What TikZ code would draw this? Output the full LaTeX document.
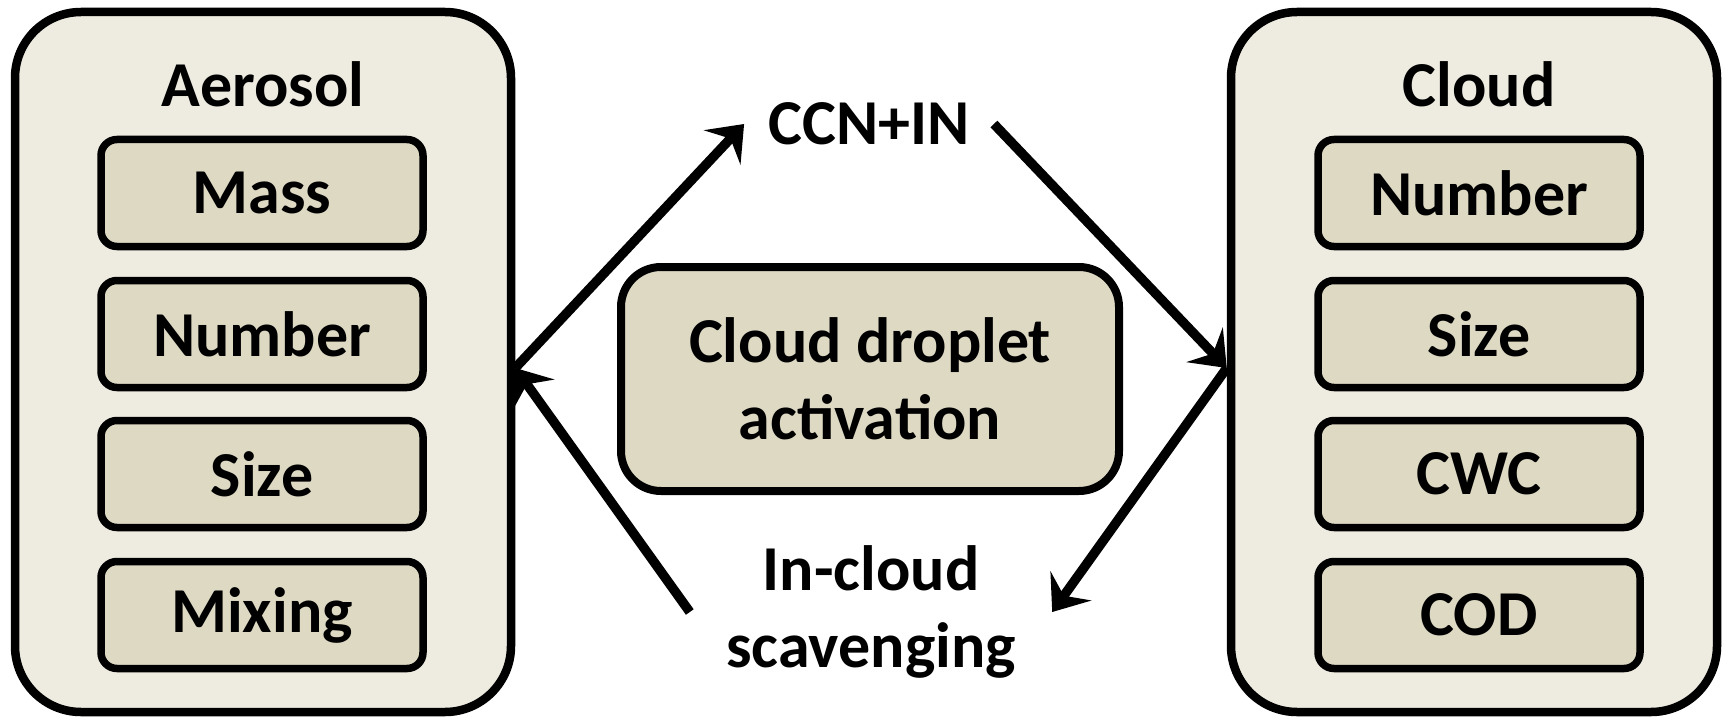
\documentclass[tikz,border=0pt]{standalone}
\usepackage{fontspec}
\setmainfont{Carlito}
\usetikzlibrary{arrows.meta}

\definecolor{panelfill}{HTML}{EEECE1}
\definecolor{itemfill}{HTML}{DDD9C3}

\begin{document}
\begin{tikzpicture}[
  x=0.5pt, y=-0.5pt,
  font=\fontsize{32}{38.4}\selectfont\bfseries,
  % Node Styles
  panel/.style={draw, line width=4.25pt, rounded corners=33pt, fill=panelfill, minimum width=248pt, minimum height=350pt, inner sep=0pt},
  item/.style={draw, line width=3.75pt, rounded corners=8pt, fill=itemfill, minimum width=161pt, minimum height=53.5pt, inner sep=0pt},
  proc/.style={draw, line width=4pt, rounded corners=20pt, fill=itemfill, minimum width=249pt, minimum height=112pt, align=center},
  title/.style={anchor=base, inner sep=0pt},
  lbl/.style={align=center, inner ysep=0pt},
  % Line Styles
  flow/.style={-{Stealth[length=16pt, width=25pt, inset=6pt]}, line width=4.75pt, black}
]
\useasboundingbox (0,0) rectangle (1724,717);

% ================= NODES =================

% --- Aerosol (Left Panel) ---
\node[panel] (aer) at (263,362) {};
\node[title] (aer_title) at (263,107) {Aerosol};
\node[item] (aer_mass) at (262,193) {Mass};
\node[item] (aer_num)  at (262,334) {Number};
\node[item] (aer_size) at (262,474) {Size};
\node[item] (aer_mix)  at (262,615) {Mixing};

% --- Cloud (Right Panel) ---
\node[panel, minimum width=243pt] (cld) at (1474,362) {};
\node[title] (cld_title) at (1479,107) {Cloud};
\node[item] (cld_num)  at (1479,193) {Number};
\node[item] (cld_size) at (1479,334) {Size};
\node[item] (cld_cwc)  at (1479,474) {CWC};
\node[item] (cld_cod)  at (1479,615) {COD};

% --- Process (Center) ---
\node[proc] (act) at (870,379) {Cloud droplet\\activation};

% --- Pathway Labels ---
\node[lbl, inner xsep=12pt] (ccn) at (869,124) {CCN+IN};
\node[lbl, inner xsep=18pt] (scav) at (871,612) {In-cloud\\scavenging};

% ================= CONNECTIONS =================

% 1. Aerosol -> CCN+IN -> Cloud (Top)
\draw[flow] ([yshift=-3pt]aer.east) -- (ccn.west);
\draw[flow] (ccn.east) -- ([yshift=-3pt]cld.west);

% 2. Cloud -> In-cloud scavenging -> Aerosol (Bottom)
\draw[flow] ([yshift=-3pt]cld.west) -- (scav.east);
\draw[flow] (scav.west) -- ([yshift=-3pt]aer.east);

\end{tikzpicture}
\end{document}
